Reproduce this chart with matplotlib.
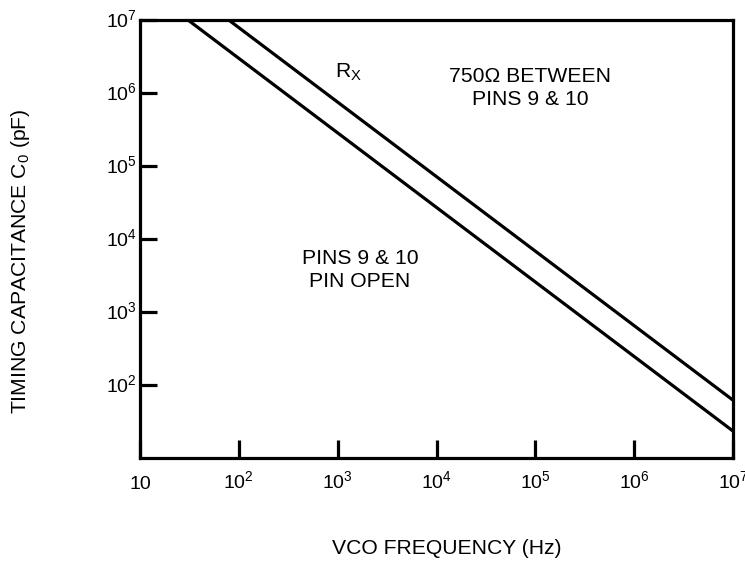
import numpy as np
import matplotlib
matplotlib.use("Agg")
import matplotlib.pyplot as plt
from matplotlib.ticker import FixedLocator, FixedFormatter, NullLocator
from matplotlib.transforms import ScaledTranslation

plt.rcParams['font.family'] = ['Liberation Sans', 'DejaVu Sans']
plt.rcParams['mathtext.default'] = 'regular'

# ---- data (endpoints of the two straight lines) ----
freq_rx = [79, 1e7]          # Hz, line with 750 ohm between pins 9 & 10
cap_rx = [1e7, 62]           # pF
freq_open = [30.6, 1e7]      # Hz, line with pins 9 & 10 open
cap_open = [1e7, 23.4]       # pF

x_ticks = [1e1, 1e2, 1e3, 1e4, 1e5, 1e6, 1e7]
x_labels = ["10", "10$^2$", "10$^3$", "10$^4$", "10$^5$", "10$^6$", "10$^7$"]
y_ticks = [1e2, 1e3, 1e4, 1e5, 1e6, 1e7]
y_labels = ["10$^2$", "10$^3$", "10$^4$", "10$^5$", "10$^6$", "10$^7$"]

LW = 2.3
FS_TICK = 14
FS_TEXT = 15.2

fig = plt.figure(figsize=(7.45, 5.64), dpi=100)
ax = fig.add_axes([140 / 745, (564 - 458) / 564, 593 / 745, 438 / 564])

ax.plot(freq_rx, cap_rx, color="black", lw=LW, solid_capstyle="butt")
ax.plot(freq_open, cap_open, color="black", lw=LW, solid_capstyle="butt")

ax.set_xscale("log")
ax.set_yscale("log")
ax.set_xlim(1e1, 1e7)
ax.set_ylim(1e1, 1e7)

ax.xaxis.set_major_locator(FixedLocator(x_ticks))
ax.xaxis.set_major_formatter(FixedFormatter(x_labels))
ax.xaxis.set_minor_locator(NullLocator())
ax.yaxis.set_major_locator(FixedLocator(y_ticks))
ax.yaxis.set_major_formatter(FixedFormatter(y_labels))
ax.yaxis.set_minor_locator(NullLocator())

ax.tick_params(axis="x", direction="in", length=13, width=LW, pad=22, labelsize=FS_TICK)
ax.tick_params(axis="y", direction="in", length=12, width=LW, pad=2.5, labelsize=FS_TICK)

# x labels sit on a common baseline, y label digits centred on the tick
for lbl in ax.get_xticklabels():
    lbl.set_va("baseline")
for lbl in ax.get_yticklabels():
    lbl.set_va("baseline")
    lbl.set_transform(lbl.get_transform() + ScaledTranslation(0, -7 / 100, fig.dpi_scale_trans))

for sp in ax.spines.values():
    sp.set_linewidth(LW)

# annotations
ax.text(0.352, 0.881, "R$_X$", transform=ax.transAxes, ha="center", va="center", fontsize=FS_TEXT)
ax.text(0.658, 0.845, "750\u03a9 BETWEEN\nPINS 9 & 10", transform=ax.transAxes,
        ha="center", va="center", fontsize=FS_TEXT, linespacing=1.3)
ax.text(0.371, 0.429, "PINS 9 & 10\nPIN OPEN", transform=ax.transAxes,
        ha="center", va="center", fontsize=FS_TEXT, linespacing=1.25)

fig.text(447 / 745, 1 - 549 / 564, "VCO FREQUENCY (Hz)", ha="center", va="center", fontsize=FS_TEXT)
fig.text(21 / 745, 1 - 261 / 564, "TIMING CAPACITANCE C$_0$ (pF)", ha="center", va="center",
         rotation=90, fontsize=FS_TEXT)

fig.savefig("out.png", dpi=100)
